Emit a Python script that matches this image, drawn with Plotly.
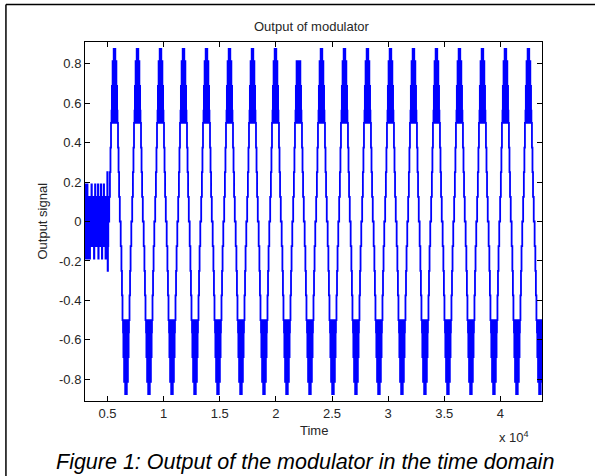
import plotly.graph_objects as go

# values
# start-up noise of the modulator (before the first full cycle)
noise_start = 3000
noise_step = 32
noise_values = [
    0.1875, -0.1875, 0.1875, -0.1875, 0.1875, -0.125, 0.1875, -0.1875, 0.125, -0.125,
    0.125, -0.125, 0.125, -0.1875, 0.125, -0.125, 0.125, -0.125, 0.1875, -0.125,
    0.125, -0.125, 0.125, -0.125, 0.125, -0.1875, 0.125, -0.125, 0.1875, -0.125,
    0.125, -0.125, 0.125, -0.125, 0.125, -0.125, 0.1875, -0.1875, 0.125, -0.125,
    0.125, -0.125, 0.125, -0.125, 0.1875, -0.125, 0.125, -0.1875, 0.125, -0.125,
    0.125, -0.125, 0.1875, -0.125, 0.125, -0.125, 0.125, -0.1875, 0.125, -0.125,
    0.125, -0.125,
]
jump_times = [4984, 5016]
jump_values = [0.25, -0.25]

# one cycle per peak
peak_times = [5620, 7668, 9716, 11764, 13812, 15860, 17908, 19956, 22004, 24052,
              26100, 28148, 30196, 32244, 34292, 36340, 38388, 40436, 42484, 44532]
peak_tops = [0.875, 0.875, 0.875, 0.875, 0.875, 0.875, 0.875, 0.875, 0.8125, 0.875,
             0.875, 0.875, 0.875, 0.875, 0.875, 0.875, 0.875, 0.875, 0.875, 0.875]
trough_bottoms = [-0.875] * 20

# falling half cycle, peak -> trough, in steps of 16 samples:
# (last step, level a, level b) - a != b means the quantiser toggles between them
sample_step = 16
falling_steps = [
    (5, 0.875, 0.5),
    (11, 0.8125, 0.5),
    (15, 0.6875, 0.5),
    (17, 0.5625, 0.5),
    (19, 0.5, 0.5),
    (22, 0.375, 0.375),
    (25, 0.25, 0.25),
    (29, 0.125, 0.125),
    (34, 0.0, 0.0),
    (38, -0.125, -0.125),
    (41, -0.25, -0.25),
    (44, -0.375, -0.375),
    (46, -0.5, -0.5),
    (48, -0.5625, -0.5),
    (52, -0.6875, -0.5),
    (58, -0.8125, -0.5),
    (64, -0.875, -0.5),
]

x_ticks = [5000, 10000, 15000, 20000, 25000, 30000, 35000, 40000]
x_tick_text = ["0.5", "1", "1.5", "2", "2.5", "3", "3.5", "4"]
y_ticks = [-0.8, -0.6, -0.4, -0.2, 0, 0.2, 0.4, 0.6, 0.8]
y_tick_text = ["-0.8", "-0.6", "-0.4", "-0.2", "0", "0.2", "0.4", "0.6", "0.8"]

x_min, x_max = 3000, 43700

# build the sample sequence
half = []
k = 0
for end, a, b in falling_steps:
    while k <= end:
        half.append(a if k % 2 == 0 else b)
        k += 1

t, y = [], []
for i, v in enumerate(noise_values):
    t.append(noise_start + i * noise_step)
    y.append(v)
t += jump_times
y += jump_values

for pt, top, bottom in zip(peak_times, peak_tops, trough_bottoms):
    for k in range(-64, 64):
        tk = pt + k * sample_step
        if tk < 5040 or tk > x_max + 100:
            continue
        v = half[abs(k)]
        if v == 0.875:
            v = top
        elif v == -0.875:
            v = bottom
        t.append(tk)
        y.append(v)

FONT = "Liberation Sans, Arial, Helvetica, sans-serif"
TEXT = "#262626"

fig = go.Figure()
fig.add_trace(go.Scatter(
    x=t, y=y, mode="lines",
    line=dict(color="#0000ff", width=1.8, shape="hv"),
    showlegend=False, hoverinfo="skip",
))

axis_style = dict(
    showgrid=False, zeroline=False,
    showline=True, linecolor="black", linewidth=1,
    mirror="ticks", ticks="inside", ticklen=5, tickcolor="black",
    tickfont=dict(family=FONT, size=13, color=TEXT),
)

fig.update_xaxes(range=[x_min, x_max], tickvals=x_ticks, ticktext=x_tick_text, **axis_style)
fig.update_yaxes(range=[-0.91, 0.91], tickvals=y_ticks, ticktext=y_tick_text, **axis_style)


def label(text, x, y, size=13, color=TEXT, **kw):
    return dict(text=text, x=x, y=y, xref="paper", yref="paper",
                xanchor=kw.pop("xanchor", "center"), yanchor="middle",
                showarrow=False, font=dict(size=size, color=color), **kw)


fig.update_layout(
    width=595, height=476,
    margin=dict(l=85, r=53, t=42, b=75, autoexpand=False),
    paper_bgcolor="white", plot_bgcolor="white",
    font=dict(family=FONT, color=TEXT),
    annotations=[
        label("Output of modulator", 0.497, 1.042),
        label("Time", 0.5, -0.081),
        label("Output signal", -0.094, 0.5, textangle=-90),
        label("x 10<sup>4</sup>", 0.976, -0.1, xanchor="right"),
        label("<i>Figure 1: Output of the modulator in the time domain</i>",
              0.481, -0.17, size=21.5, color="black"),
    ],
    shapes=[
        dict(type="line", xref="paper", yref="paper",
             x0=-0.173, x1=1.12, y0=1.1045, y1=1.1045, line=dict(color="black", width=1.5)),
        dict(type="line", xref="paper", yref="paper",
             x0=-0.173, x1=-0.173, y0=1.1045, y1=-0.22, line=dict(color="black", width=1.5)),
    ],
)

# the page body has a default 8px margin; drop it so the figure fills the window
fig.write_html("out.html", config={"displayModeBar": False},
               post_script="document.body.style.margin = '0';")
